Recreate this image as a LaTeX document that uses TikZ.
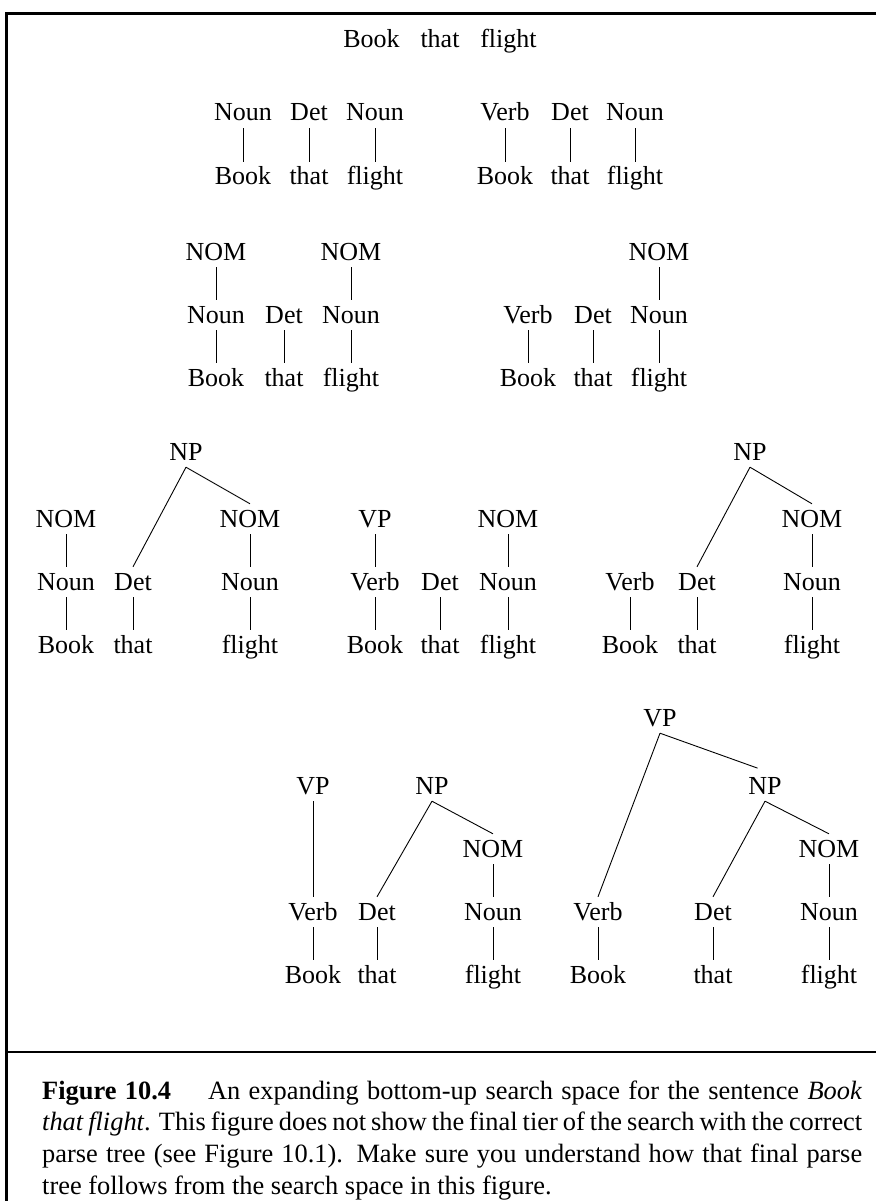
\documentclass[tikz,border=0pt]{standalone}
\usepackage{fontspec}
\setmainfont{Liberation Serif}
\begin{document}
\begin{tikzpicture}[x=1pt,y=-1pt,
  lbl/.style={font=\fontsize{26}{31}\selectfont, inner xsep=0pt, inner ysep=1.5pt,
              text height=21.5pt, text depth=5.5pt, anchor=base},
  edge/.style={line width=0.9pt},
  frame/.style={line width=2.8pt}]
\useasboundingbox (0,0) rectangle (876,1201);
\draw[frame] (876,13.5) -- (6.5,13.5) -- (6.5,1203);
\draw[frame] (6.5,1052) -- (876,1052);

% row 0
\node[lbl] (s0) at (440,48) {Book\hspace{0.8em}that\hspace{0.8em}flight};

% tier 1, tree A
\node[lbl] (a1) at (243,121) {Noun};
\node[lbl] (a2) at (309,121) {Det};
\node[lbl] (a3) at (375,121) {Noun};
\node[lbl] (a4) at (243,185) {Book};
\node[lbl] (a5) at (309,185) {that};
\node[lbl] (a6) at (375,185) {flight};
\draw[edge] (a1.south) -- (a4.north);
\draw[edge] (a2.south) -- (a5.north);
\draw[edge] (a3.south) -- (a6.north);
% tier 1, tree B
\node[lbl] (b1) at (505,121) {Verb};
\node[lbl] (b2) at (570,121) {Det};
\node[lbl] (b3) at (635,121) {Noun};
\node[lbl] (b4) at (505,185) {Book};
\node[lbl] (b5) at (570,185) {that};
\node[lbl] (b6) at (635,185) {flight};
\draw[edge] (b1.south) -- (b4.north);
\draw[edge] (b2.south) -- (b5.north);
\draw[edge] (b3.south) -- (b6.north);

% tier 2, tree C
\node[lbl] (c1) at (216,260) {NOM};
\node[lbl] (c2) at (351,260) {NOM};
\node[lbl] (c3) at (216,323) {Noun};
\node[lbl] (c4) at (284,323) {Det};
\node[lbl] (c5) at (351,323) {Noun};
\node[lbl] (c6) at (216,386) {Book};
\node[lbl] (c7) at (284,386) {that};
\node[lbl] (c8) at (351,386) {flight};
\draw[edge] (c1.south) -- (c3.north);
\draw[edge] (c2.south) -- (c5.north);
\draw[edge] (c3.south) -- (c6.north);
\draw[edge] (c4.south) -- (c7.north);
\draw[edge] (c5.south) -- (c8.north);
% tier 2, tree D
\node[lbl] (d1) at (659,260) {NOM};
\node[lbl] (d2) at (528,323) {Verb};
\node[lbl] (d3) at (593,323) {Det};
\node[lbl] (d4) at (659,323) {Noun};
\node[lbl] (d5) at (528,386) {Book};
\node[lbl] (d6) at (593,386) {that};
\node[lbl] (d7) at (659,386) {flight};
\draw[edge] (d1.south) -- (d4.north);
\draw[edge] (d2.south) -- (d5.north);
\draw[edge] (d3.south) -- (d6.north);
\draw[edge] (d4.south) -- (d7.north);

% tier 3, tree E
\node[lbl] (e0) at (186,460) {NP};
\node[lbl] (e1) at (66,527) {NOM};
\node[lbl] (e2) at (250,527) {NOM};
\node[lbl] (e3) at (66,590) {Noun};
\node[lbl] (e4) at (133,590) {Det};
\node[lbl] (e5) at (250,590) {Noun};
\node[lbl] (e6) at (66,653) {Book};
\node[lbl] (e7) at (133,653) {that};
\node[lbl] (e8) at (250,653) {flight};
\draw[edge] (e0.south) -- (e4.north);
\draw[edge] (e0.south) -- (e2.north);
\draw[edge] (e1.south) -- (e3.north);
\draw[edge] (e2.south) -- (e5.north);
\draw[edge] (e3.south) -- (e6.north);
\draw[edge] (e4.south) -- (e7.north);
\draw[edge] (e5.south) -- (e8.north);
% tier 3, tree F
\node[lbl] (f1) at (375,527) {VP};
\node[lbl] (f2) at (508,527) {NOM};
\node[lbl] (f3) at (375,590) {Verb};
\node[lbl] (f4) at (440,590) {Det};
\node[lbl] (f5) at (508,590) {Noun};
\node[lbl] (f6) at (375,653) {Book};
\node[lbl] (f7) at (440,653) {that};
\node[lbl] (f8) at (508,653) {flight};
\draw[edge] (f1.south) -- (f3.north);
\draw[edge] (f2.south) -- (f5.north);
\draw[edge] (f3.south) -- (f6.north);
\draw[edge] (f4.south) -- (f7.north);
\draw[edge] (f5.south) -- (f8.north);
% tier 3, tree G
\node[lbl] (g0) at (750,460) {NP};
\node[lbl] (g1) at (812,527) {NOM};
\node[lbl] (g2) at (630,590) {Verb};
\node[lbl] (g3) at (697,590) {Det};
\node[lbl] (g4) at (812,590) {Noun};
\node[lbl] (g5) at (630,653) {Book};
\node[lbl] (g6) at (697,653) {that};
\node[lbl] (g7) at (812,653) {flight};
\draw[edge] (g0.south) -- (g3.north);
\draw[edge] (g0.south) -- (g1.north);
\draw[edge] (g1.south) -- (g4.north);
\draw[edge] (g2.south) -- (g5.north);
\draw[edge] (g3.south) -- (g6.north);
\draw[edge] (g4.south) -- (g7.north);

% tier 4, tree H
\node[lbl] (h1) at (313,794) {VP};
\node[lbl] (h2) at (432,794) {NP};
\node[lbl] (h3) at (493,857) {NOM};
\node[lbl] (h4) at (313,920) {Verb};
\node[lbl] (h5) at (377,920) {Det};
\node[lbl] (h6) at (493,920) {Noun};
\node[lbl] (h7) at (313,983) {Book};
\node[lbl] (h8) at (377,983) {that};
\node[lbl] (h9) at (493,983) {flight};
\draw[edge] (h1.south) -- (h4.north);
\draw[edge] (h2.south) -- (h5.north);
\draw[edge] (h2.south) -- (h3.north);
\draw[edge] (h3.south) -- (h6.north);
\draw[edge] (h4.south) -- (h7.north);
\draw[edge] (h5.south) -- (h8.north);
\draw[edge] (h6.south) -- (h9.north);
% tier 4, tree I
\node[lbl] (i0) at (660,726) {VP};
\node[lbl] (i1) at (765,794) {NP};
\node[lbl] (i2) at (829,857) {NOM};
\node[lbl] (i3) at (598,920) {Verb};
\node[lbl] (i4) at (713,920) {Det};
\node[lbl] (i5) at (829,920) {Noun};
\node[lbl] (i6) at (598,983) {Book};
\node[lbl] (i7) at (713,983) {that};
\node[lbl] (i8) at (829,983) {flight};
\draw[edge] (i0.south) -- (i3.north);
\draw[edge, shorten >=8pt] (i0.south) -- (i1.north);
\draw[edge] (i1.south) -- (i4.north);
\draw[edge] (i1.south) -- (i2.north);
\draw[edge] (i2.south) -- (i5.north);
\draw[edge] (i3.south) -- (i6.north);
\draw[edge] (i4.south) -- (i7.north);
\draw[edge] (i5.south) -- (i8.north);

% caption
\node[anchor=base west, text width=820pt, inner sep=0pt, align=justify,
      font=\fontsize{26.4}{31.8}\selectfont] (cap) at (42,1099)
  {\hyphenpenalty=10000 \textbf{Figure 10.4}\hspace{1.4em}An expanding bottom-up search space for the sentence \textit{Book}\linebreak
   \textit{that flight}. This figure does not show the final tier of the search with the correct\linebreak
   parse tree (see Figure 10.1). Make sure you understand how that final parse\linebreak
   tree follows from the search space in this figure.};
\end{tikzpicture}
\end{document}
